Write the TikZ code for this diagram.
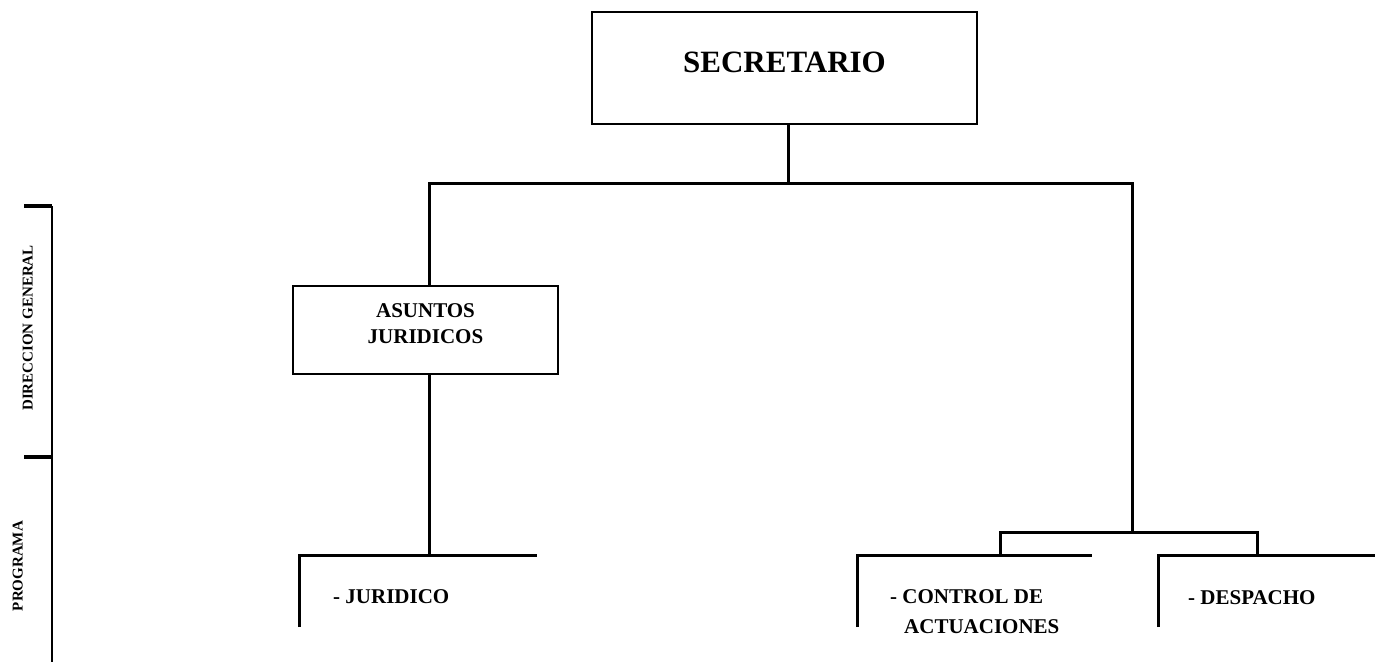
\documentclass[tikz,border=0pt]{standalone}
\usepackage{fontspec}
\setmainfont{Liberation Serif}
\begin{document}
\begin{tikzpicture}[x=1pt,y=-1pt,
  conn/.style={line width=3pt,line join=miter,line cap=butt},
  box/.style={draw,line width=2pt,inner sep=0pt},
  lbl/.style={inner sep=0pt,font=\fontsize{21}{25}\selectfont\bfseries},
  biglbl/.style={inner sep=0pt,font=\fontsize{31}{36}\selectfont\bfseries},
  sidelbl/.style={inner sep=0pt,rotate=90,text height=10pt,text depth=0pt,font=\fontsize{15}{18}\selectfont\bfseries}]
\useasboundingbox[fill=white] (0,0) rectangle (1375,665);

% boxes
\node[box,minimum width=385pt,minimum height=112pt] (sec) at (784.5,68) {};
\node[biglbl,anchor=base] (secT) at (784.5,72) {SECRETARIO};
\node[box,minimum width=265pt,minimum height=88pt] (asuntos) at (425.5,330) {};
\node[lbl,anchor=base] (asunA) at (425.5,317) {ASUNTOS};
\node[lbl,anchor=base] (asunB) at (425.5,343) {JURIDICOS};

% bottom labels
\node[lbl,anchor=base west] (jur) at (333,603) {- JURIDICO};
\node[lbl,anchor=base west] (ctrlA) at (890,603) {- CONTROL DE};
\node[lbl,anchor=base west] (ctrlB) at (904,633) {ACTUACIONES};
\node[lbl,anchor=base west] (desp) at (1188,604) {- DESPACHO};

% side labels
\node[sidelbl] (dirgen) at (27.5,328) {DIRECCION GENERAL};
\node[sidelbl] (prog) at (17.5,566) {PROGRAMA};

% junction coordinates
\coordinate (top) at (788,183);
\coordinate (hl) at (429,183);
\coordinate (hr) at (1132,183);
\coordinate (rj) at (1132,532);
\coordinate (rl) at (1000,532);
\coordinate (rr) at (1257,532);
\coordinate (jurTop) at (429,555);
\coordinate (jurL) at (299,555);
\coordinate (jurR) at (537,555);
\coordinate (jurB) at (299,627);
\coordinate (ctlL) at (857,555);
\coordinate (ctlR) at (1092,555);
\coordinate (ctlB) at (857,627);
\coordinate (dspL) at (1158,555);
\coordinate (dspR) at (1375,555);
\coordinate (dspB) at (1158,627);
\coordinate (axT) at (52,206);
\coordinate (axM) at (52,457);
\coordinate (axB) at (52,662);
\coordinate (tkT) at (24,206);
\coordinate (tkM) at (24,457);

% connectors
\draw[conn] (sec.south -| top) -- (top);
\draw[conn] (asuntos.north -| hl) -- (hl) -- (hr) -- (rj);
\draw[conn] (asuntos.south -| hl) -- (jurTop);
\draw[conn] (rl |- ctlL) -- (rl) -- (rr) -- (rr |- dspL);

% open program boxes
\draw[conn] (jurB) -- (jurL) -- (jurR);
\draw[conn] (ctlB) -- (ctlL) -- (ctlR);
\draw[conn] (dspB) -- (dspL) -- (dspR);

% side axis
\draw[line width=2.4pt] (axT) -- (axB);
\draw[line width=3.2pt] (tkT) -- (axT);
\draw[line width=3.2pt] (tkM) -- (axM);
\end{tikzpicture}
\end{document}
